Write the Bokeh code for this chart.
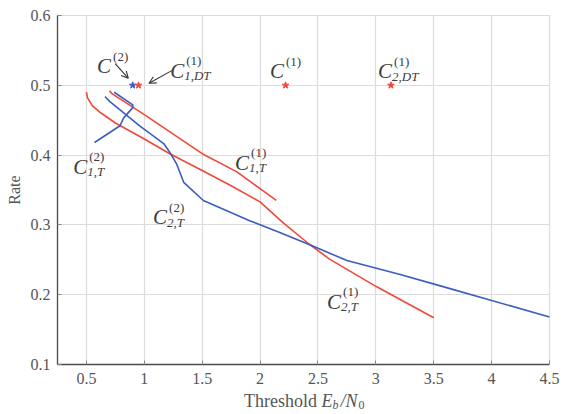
import math
from bokeh.plotting import figure
from bokeh.models import Label, Arrow, OpenHead, FixedTicker, Range1d
from bokeh.embed import file_html
from bokeh.resources import INLINE

# ---- data ----
x_ticks = [0.5, 1, 1.5, 2, 2.5, 3, 3.5, 4, 4.5]
y_ticks = [0.1, 0.2, 0.3, 0.4, 0.5, 0.6]

# C_{2,T}^{(1)} (red, lower)
c2t1_x = [0.50, 0.51, 0.55, 0.62, 0.75, 1.00, 1.22, 1.50, 1.75, 2.00, 2.20, 2.42, 2.60, 3.00, 3.50]
c2t1_y = [0.490, 0.482, 0.471, 0.461, 0.446, 0.423, 0.402, 0.378, 0.356, 0.333, 0.303, 0.273, 0.251, 0.212, 0.167]
# C_{1,T}^{(1)} (red, upper)
c1t1_x = [0.70, 0.72, 1.00, 1.50, 1.80, 2.14]
c1t1_y = [0.492, 0.488, 0.458, 0.402, 0.376, 0.335]
# C_{2,T}^{(2)} (blue, long)
c2t2_x = [0.66, 0.70, 0.96, 1.17, 1.22, 1.28, 1.34, 1.51, 1.91, 2.17, 2.45, 2.75, 3.21, 3.55, 4.50]
c2t2_y = [0.484, 0.477, 0.442, 0.416, 0.404, 0.387, 0.361, 0.335, 0.306, 0.289, 0.270, 0.249, 0.229, 0.213, 0.168]
# C_{1,T}^{(2)} (blue, short)
c1t2_x = [0.74, 0.90, 0.90, 0.82, 0.79, 0.57]
c1t2_y = [0.490, 0.472, 0.468, 0.453, 0.442, 0.418]

# single points (stars)
red_star_x = [0.95, 2.22, 3.13]
red_star_y = [0.50, 0.50, 0.50]
blue_star_x = [0.90]
blue_star_y = [0.50]

RED = "#f0493a"
BLUE = "#3b5cc0"
TXT = "#3c3c3c"
GREY = "#555555"
FONT = "Liberation Serif"

X0, X1 = 0.25, 4.5         # visible axis extent (x)
Y0, Y1 = 0.1, 0.6          # visible axis extent (y)
PX_X = 492 / (X1 - X0)     # pixels per x unit
PX_Y = 349 / (Y1 - Y0)     # pixels per y unit
# the frame fills the whole canvas; the axes sit at fixed locations inside it
X_LEFT = X0 - 57 / PX_X
X_RIGHT = X1 + 17 / PX_X
Y_BOTTOM = Y0 - 50 / PX_Y
Y_TOP = Y1 + 15 / PX_Y

p = figure(width=566, height=414, output_backend="svg", toolbar_location=None,
           x_range=Range1d(X_LEFT, X_RIGHT), y_range=Range1d(Y_BOTTOM, Y_TOP),
           min_border_left=0, min_border_right=0, min_border_top=0, min_border_bottom=0)
p.outline_line_color = None
p.background_fill_color = "white"
p.border_fill_color = "white"

for ax in (p.xaxis[0], p.yaxis[0]):
    ax.axis_line_color = "#4a4a4a"
    ax.axis_line_width = 1.3
    ax.major_tick_in = 4
    ax.major_tick_out = 0
    ax.major_tick_line_color = "#888888"
    ax.minor_tick_line_color = None
    ax.major_label_text_font = FONT
    ax.major_label_text_font_size = "16px"
    ax.major_label_text_color = GREY
p.xaxis.ticker = FixedTicker(ticks=x_ticks)
p.yaxis.ticker = FixedTicker(ticks=y_ticks)
p.xaxis.fixed_location = Y0
p.yaxis.fixed_location = X0
p.xaxis.bounds = (X0, X1)
p.yaxis.bounds = (Y0, Y1)
p.xaxis.major_label_standoff = 8
p.yaxis.major_label_standoff = 7

p.xgrid.grid_line_color = "#dcdcdc"
p.ygrid.grid_line_color = "#dcdcdc"
p.xgrid.grid_line_width = 1.2
p.ygrid.grid_line_width = 1.2
p.xgrid.cross_bounds = (Y0, Y1)
p.ygrid.cross_bounds = (X0, X1)

p.line(c2t1_x, c2t1_y, line_color=RED, line_width=1.6)
p.line(c1t1_x, c1t1_y, line_color=RED, line_width=1.6)
p.line(c2t2_x, c2t2_y, line_color=BLUE, line_width=1.6)
p.line(c1t2_x, c1t2_y, line_color=BLUE, line_width=1.6)

p.scatter(blue_star_x, blue_star_y, marker="star", size=7, color=BLUE)
p.scatter(red_star_x, red_star_y, marker="star", size=7, color=RED)


def lab(x, y, text, size, italic, dx=0, dy=0, color=TXT, align="left",
        baseline="alphabetic", angle=0.0):
    p.add_layout(Label(x=x, y=y, text=text, x_offset=dx, y_offset=dy, angle=angle,
                       text_font=FONT, text_font_size=f"{size}px",
                       text_font_style="italic" if italic else "normal",
                       text_color=color, text_align=align, text_baseline=baseline))


def cname(x, y, sup, sub=None):
    lab(x, y, "C", 21, True)
    lab(x, y, sup, 13, False, dx=16, dy=10)
    if sub:
        lab(x, y, sub, 13, True, dx=14, dy=-5)


cname(0.592, 0.527, "(2)")
cname(1.223, 0.521, "(1)", "1,DT")
cname(2.086, 0.520, "(1)")
cname(3.019, 0.520, "(1)", "2,DT")
cname(0.385, 0.383, "(2)", "1,T")
cname(1.784, 0.389, "(1)", "1,T")
cname(1.076, 0.311, "(2)", "2,T")
cname(2.579, 0.190, "(1)", "2,T")

p.add_layout(Arrow(x_start=0.748, y_start=0.531, x_end=0.862, y_end=0.510,
                   line_color="#333333", line_width=1.1,
                   end=OpenHead(size=7, line_color="#333333", line_width=1.1)))
p.add_layout(Arrow(x_start=1.237, y_start=0.521, x_end=1.040, y_end=0.503,
                   line_color="#333333", line_width=1.1,
                   end=OpenHead(size=7, line_color="#333333", line_width=1.1)))

# y axis label
lab(X0 - 43 / PX_X, (Y0 + Y1) / 2, "Rate", 16, False, color=GREY,
    align="center", baseline="middle", angle=math.pi / 2)

# x axis label: Threshold E_b/N_0
XL, YL = 2.53, Y0 - 36 / PX_Y
lab(XL, YL, "Threshold ", 18, False, color=GREY, align="right")
lab(XL, YL, "E", 18, True, color=GREY)
lab(XL, YL, "b", 12, True, dx=11, dy=-4, color=GREY)
lab(XL, YL, "/N", 18, True, dx=19, color=GREY)
lab(XL, YL, "0", 12, False, dx=37, dy=-4, color=GREY)

open("out.html", "w").write(file_html(p, INLINE))
